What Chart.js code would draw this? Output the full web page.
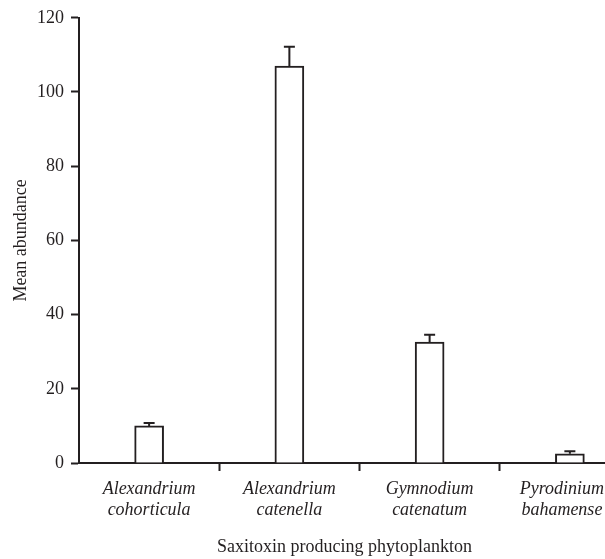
<!DOCTYPE html>
<html>
<head>
<meta charset="utf-8">
<script src="https://cdn.jsdelivr.net/npm/chart.js@4/dist/chart.umd.min.js"></script>
<style>
  html, body { margin: 0; padding: 0; background: #fff; overflow: hidden; width: 605px; height: 559px; }
  #wrap { width: 640px; height: 559px; }
</style>
</head>
<body>
<div id="wrap"><canvas id="c" width="640" height="559"></canvas></div>
<script>
const categories = [
  ["Alexandrium", "cohorticula"],
  ["Alexandrium", "catenella"],
  ["Gymnodium", "catenatum"],
  ["Pyrodinium", "bahamense"]
];
const meanAbundance = [10.0, 107.0, 32.6, 2.5];
const errorValues = [0.8, 5.2, 2.0, 0.7];
const yTicks = [0, 20, 40, 60, 80, 100, 120];

const ink = '#231f20';
const serif = '"Liberation Serif", "Times New Roman", serif';

const errorBarPlugin = {
  id: 'errorBars',
  afterDatasetsDraw(chart) {
    const ctx = chart.ctx;
    const yScale = chart.scales.y;
    const meta = chart.getDatasetMeta(0);
    ctx.save();
    ctx.strokeStyle = ink;
    ctx.lineWidth = 2;
    meta.data.forEach((bar, i) => {
      const v = meanAbundance[i];
      const e = errorValues[i];
      const yTop = yScale.getPixelForValue(v);
      const yErr = yScale.getPixelForValue(v + e);
      const x = bar.x;
      ctx.beginPath();
      ctx.moveTo(x, yTop);
      ctx.lineTo(x, yErr);
      ctx.moveTo(x - 5.5, yErr);
      ctx.lineTo(x + 5.5, yErr);
      ctx.stroke();
    });
    ctx.restore();
  }
};

// Keep the last category label inside the visible page and centre the axis title on the visible width.
const labelFitPlugin = {
  id: 'labelFit',
  beforeDraw(chart) {
    const xs = chart.scales.x;
    xs._labelItems = xs._computeLabelItems(chart.chartArea);
    const last = xs._labelItems[xs._labelItems.length - 1];
    if (last && last.options && last.options.translation) {
      last.options.translation[0] -= 8;
    }
    if (!xs.__titleWrapped) {
      const orig = xs.drawTitle.bind(xs);
      xs.drawTitle = function () {
        const ctx = this.ctx;
        ctx.save();
        ctx.translate(-15, 0);
        orig();
        ctx.restore();
      };
      xs.__titleWrapped = true;
    }
  }
};

new Chart(document.getElementById('c'), {
  type: 'bar',
  data: {
    labels: categories,
    datasets: [{
      data: meanAbundance,
      backgroundColor: '#ffffff',
      borderColor: ink,
      borderWidth: 2,
      barThickness: 29
    }]
  },
  options: {
    responsive: false,
    animation: false,
    layout: { padding: { top: 8, right: 0, bottom: 1, left: 0 } },
    plugins: { legend: { display: false }, tooltip: { enabled: false } },
    scales: {
      x: {
        offset: true,
        grid: {
          display: true,
          drawOnChartArea: false,
          drawTicks: true,
          tickLength: 8,
          tickWidth: 2,
          tickColor: (c) => (c.index === 0 ? 'rgba(0,0,0,0)' : ink),
          offset: true
        },
        border: { display: true, color: ink, width: 2 },
        ticks: {
          color: ink,
          padding: 8,
          maxRotation: 0,
          autoSkip: false,
          font: { family: serif, size: 18, style: 'italic', lineHeight: 1.15 }
        },
        title: {
          display: true,
          text: 'Saxitoxin producing phytoplankton',
          color: ink,
          font: { family: serif, size: 18 },
          padding: { top: 10, bottom: 0 }
        },
        afterFit(scale) { scale.height = 95; }
      },
      y: {
        min: 0,
        max: 120,
        afterBuildTicks(scale) { scale.ticks = yTicks.map(v => ({ value: v })); },
        grid: {
          display: true,
          drawOnChartArea: false,
          drawTicks: true,
          tickLength: 8,
          tickWidth: 2,
          tickColor: ink
        },
        border: { display: true, color: ink, width: 2 },
        ticks: {
          color: ink,
          padding: 7,
          font: { family: serif, size: 18 }
        },
        title: {
          display: true,
          text: 'Mean abundance',
          color: ink,
          font: { family: serif, size: 18 },
          padding: { top: 10, bottom: 4 }
        },
        afterFit(scale) { scale.width = 79; }
      }
    }
  },
  plugins: [errorBarPlugin, labelFitPlugin]
});
</script>
</body>
</html>
